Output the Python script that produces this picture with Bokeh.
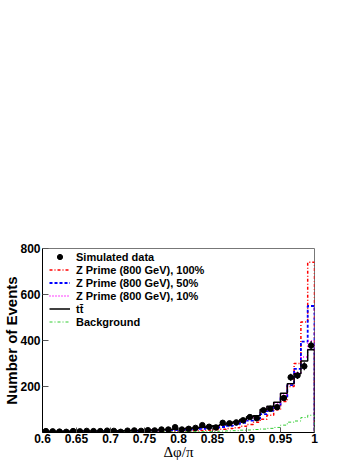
import numpy as np
from bokeh.plotting import figure
from bokeh.models import (FixedTicker, CustomJSTickFormatter, Legend, LegendItem,
                          Range1d, ColumnDataSource)
from bokeh.embed import file_html
from bokeh.resources import INLINE

# ---- data -------------------------------------------------------------
bin_edges = [0.60, 0.61, 0.62, 0.63, 0.64, 0.65, 0.66, 0.67, 0.68, 0.69,
             0.70, 0.71, 0.72, 0.73, 0.74, 0.75, 0.76, 0.77, 0.78, 0.79,
             0.80, 0.81, 0.82, 0.83, 0.84, 0.85, 0.86, 0.87, 0.88, 0.89,
             0.90, 0.91, 0.92, 0.93, 0.94, 0.95, 0.96, 0.97, 0.98, 0.99, 1.00]

sim_data = [6, 5, 4, 3, 6, 5, 7, 6, 6, 8,
            7, 3, 8, 9, 7, 10, 9, 13, 13, 23,
            13, 16, 20, 32, 25, 22, 42, 40, 44, 53,
            67, 62, 97, 103, 110, 150, 240, 248, 288, 378]
sim_err = [2.4, 2.2, 2.0, 1.7, 2.4, 2.2, 2.6, 2.4, 2.4, 2.8,
           2.6, 1.7, 2.8, 3.0, 2.6, 3.2, 3.0, 3.6, 3.6, 4.8,
           3.6, 4.0, 4.5, 5.7, 5.0, 4.7, 6.5, 6.3, 6.6, 7.3,
           8.2, 7.9, 9.8, 10.1, 10.5, 12.2, 15.5, 15.7, 17.0, 19.4]

zprime_100 = [2, 2, 2, 2, 2, 2, 2, 3, 3, 3,
              3, 3, 3, 4, 4, 4, 5, 5, 5, 6,
              6, 7, 8, 9, 10, 12, 14, 17, 21, 27,
              35, 45, 58, 75, 99, 135, 200, 300, 480, 740]
zprime_50 = [3.5, 3.5, 3.5, 3.5, 4, 4, 4, 4.5, 5, 5,
             5, 5.5, 5.5, 6.5, 6.5, 7, 8, 8.5, 9, 10,
             11, 12.5, 14, 16, 18, 20.5, 24, 28.5, 34, 41.5,
             51.5, 59, 80, 94.5, 115, 153, 206, 277, 395, 550]
zprime_10 = [4.7, 4.7, 4.7, 4.7, 5.6, 5.6, 5.6, 5.7, 6.6, 6.6,
             6.6, 7.5, 7.5, 8.5, 8.5, 9.4, 10.4, 11.3, 12.2, 13.2,
             15, 16.9, 18.8, 21.6, 24.4, 27.3, 32, 37.7, 44.4, 53.1,
             64.7, 70.2, 95.8, 110, 128, 167, 211, 260, 328, 398]
ttbar = [5, 5, 5, 5, 6, 6, 6, 6, 7, 7,
         7, 8, 8, 9, 9, 10, 11, 12, 13, 14,
         16, 18, 20, 23, 26, 29, 34, 40, 47, 56,
         68, 73, 100, 114, 131, 171, 212, 255, 311, 360]
background = [1, 1, 1, 1, 1, 1, 1, 1, 1, 1,
              2, 2, 2, 2, 2, 2, 2, 3, 3, 3,
              3, 4, 4, 4, 5, 5, 6, 7, 8, 10,
              11, 13, 15, 18, 22, 32, 45, 50, 65, 75]

x_ticks = [0.6, 0.65, 0.7, 0.75, 0.8, 0.85, 0.9, 0.95, 1.0]
y_ticks = [200, 400, 600, 800]


def outline(vals):
    xs, ys = [bin_edges[0]], [0]
    for i, v in enumerate(vals):
        xs += [bin_edges[i], bin_edges[i + 1]]
        ys += [v, v]
    xs.append(bin_edges[-1])
    ys.append(0)
    return xs, ys


# ---- figure -----------------------------------------------------------
p = figure(width=357, height=462, output_backend="svg", toolbar_location=None,
           x_range=Range1d(0.6, 1.0), y_range=Range1d(0, 800),
           min_border_top=248, min_border_right=43, min_border_left=40,
           min_border_bottom=29)
p.xgrid.visible = False
p.ygrid.visible = False
p.outline_line_color = "#777777"
p.outline_line_width = 1
p.background_fill_color = "white"
p.border_fill_color = "white"

styles = [
    (zprime_100, "#ff0000", "3 2 1 2", 1.5),
    (zprime_50, "#0000ff", "3 2", 1.8),
    (zprime_10, "#ff00ff", "1 2", 1.5),
    (ttbar, "#000000", "solid", 1.5),
    (background, "#33cc33", "3 2 1 2", 1.0),
]
hist_renderers = []
for vals, col, dash, lw in styles:
    xs, ys = outline(vals)
    r = p.line(xs, ys, line_color=col, line_dash=dash, line_width=lw)
    hist_renderers.append(r)

centers = [(bin_edges[i] + bin_edges[i + 1]) / 2 for i in range(len(sim_data))]
src = ColumnDataSource(dict(
    x=centers, y=sim_data,
    lo=[d - e for d, e in zip(sim_data, sim_err)],
    hi=[d + e for d, e in zip(sim_data, sim_err)]))
p.segment(x0="x", y0="lo", x1="x", y1="hi", source=src, line_color="black", line_width=1.2)
pts = p.scatter("x", "y", source=src, size=5.5, color="black")

# ---- axes -------------------------------------------------------------
p.xaxis.ticker = FixedTicker(ticks=x_ticks, minor_ticks=[])
p.xaxis.formatter = CustomJSTickFormatter(
    code="return tick.toFixed(2).replace(/0$/, '').replace(/\\.0$/, '').replace(/\\.$/, '');")
p.yaxis.ticker = FixedTicker(ticks=y_ticks, minor_ticks=[])

for ax in (p.xaxis[0], p.yaxis[0]):
    ax.major_tick_out = 0
    ax.minor_tick_in = 0
    ax.minor_tick_out = 0
    ax.axis_line_color = "black"
    ax.major_tick_line_color = "#555555"
    ax.major_label_text_font = "Liberation Sans"
    ax.major_label_text_font_style = "bold"
    ax.major_label_text_font_size = "12px"
    ax.major_label_text_color = "black"
    ax.axis_label_text_color = "black"
    ax.axis_label_standoff = 0

p.xaxis.major_tick_in = 5
p.yaxis.major_tick_in = 6
p.xaxis.major_label_standoff = 1
p.yaxis.major_label_standoff = 2
p.yaxis.axis_label_standoff = -3
p.xaxis.axis_label_standoff = -2

p.xaxis.axis_label = "Δφ/π"
p.xaxis.axis_label_text_font = "Liberation Serif"
p.xaxis.axis_label_text_font_style = "normal"
p.xaxis.axis_label_text_font_size = "15px"

p.yaxis.axis_label = "Number of Events"
p.yaxis.axis_label_text_font = "Liberation Sans"
p.yaxis.axis_label_text_font_style = "bold"
p.yaxis.axis_label_text_font_size = "15px"

# ---- legend -----------------------------------------------------------
labels = ["Z Prime (800 GeV), 100%", "Z Prime (800 GeV), 50%",
          "Z Prime (800 GeV), 10%", "tt\u0304", "Background"]
items = [LegendItem(label="Simulated data", renderers=[pts])]
for lab, r in zip(labels, hist_renderers):
    items.append(LegendItem(label=lab, renderers=[r]))

legend = Legend(items=items, location=(4, 101),
                label_text_font="Liberation Sans", label_text_font_style="bold",
                label_text_font_size="11px", label_text_color="black",
                glyph_width=21, glyph_height=13, label_height=13,
                label_standoff=6, spacing=0, padding=3, margin=0,
                border_line_alpha=0, background_fill_alpha=0)
p.add_layout(legend)

open("out.html", "w").write(file_html(p, INLINE))
